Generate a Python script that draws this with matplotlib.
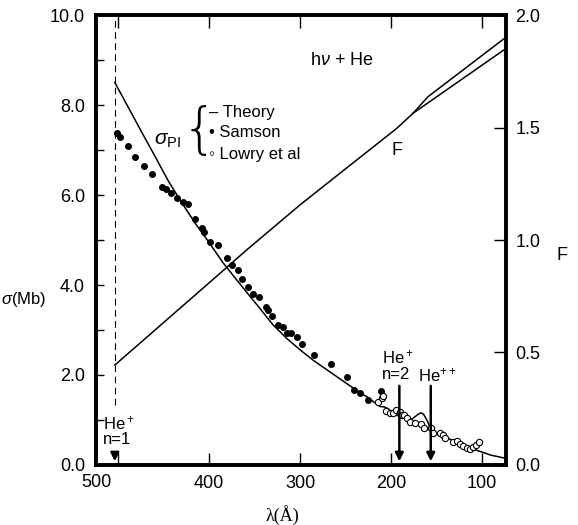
import matplotlib
matplotlib.use('Agg')
import matplotlib.pyplot as plt

plt.rcParams['font.family'] = ['Liberation Sans', 'DejaVu Sans']
plt.rcParams['mathtext.fontset'] = 'custom'
plt.rcParams['mathtext.rm'] = 'Liberation Sans'
plt.rcParams['mathtext.it'] = 'Liberation Sans:italic'

# theory photoionisation cross section (wavelength A, sigma Mb)
theory_lam = [504, 490, 475, 460, 445, 430, 415, 400, 385, 370, 358, 345, 330, 315,
              300, 285, 270, 255, 240, 226, 212, 207, 203, 198, 190, 180, 170, 160,
              150, 140, 130, 120, 110, 100, 90, 74]
theory_sig = [8.50, 7.98, 7.42, 6.87, 6.31, 5.82, 5.36, 4.94, 4.50, 4.12, 3.82, 3.50,
              3.12, 2.82, 2.56, 2.32, 2.11, 1.90, 1.69, 1.51, 1.30, 1.29, 1.25, 1.16,
              1.07, 1.00, 0.91, 0.81, 0.71, 0.62, 0.53, 0.44, 0.36, 0.29, 0.22, 0.15]
# resonance hump of the theory curve
reson_lam = [182, 176, 171, 167, 164, 160, 156]
reson_sig = [0.98, 1.03, 1.11, 1.16, 1.13, 0.99, 0.80]

# Samson data
samson_lam = [502, 498, 489, 481.7, 471.8, 463.3, 452.3, 447.6, 442, 435.8, 429.2, 423,
              415.6, 408.3, 405.7, 399, 390, 380.7, 375.2, 368, 364.2, 357, 351.4, 345,
              337.8, 335, 331.2, 323.9, 319, 314.6, 310.2, 303, 297.5, 284.6, 266.2,
              248, 240, 233.9, 225.4, 210.8]
samson_sig = [7.37, 7.28, 7.09, 6.85, 6.65, 6.47, 6.18, 6.13, 6.04, 5.93, 5.84, 5.80,
              5.47, 5.27, 5.18, 4.96, 4.89, 4.59, 4.44, 4.33, 4.13, 3.96, 3.80, 3.73,
              3.52, 3.44, 3.31, 3.11, 3.06, 2.93, 2.93, 2.84, 2.68, 2.44, 2.24,
              1.96, 1.67, 1.59, 1.44, 1.65]

# Lowry et al data
lowry_lam = [213.7, 210, 208.3, 205.3, 200.9, 197.5, 194.3, 189.9, 188, 185.5, 182.5,
             178.9, 173.3, 167, 163, 156, 153.2, 145.8, 142.9, 140.3, 131.2, 126.7,
             123.8, 120, 116.4, 112.8, 109, 106.2, 102.5]
lowry_sig = [1.39, 1.48, 1.53, 1.20, 1.16, 1.16, 1.22, 1.18, 1.11, 1.11, 1.04,
             0.96, 0.93, 0.90, 0.83, 0.83, 0.72, 0.72, 0.67, 0.59, 0.50, 0.54,
             0.46, 0.42, 0.37, 0.35, 0.39, 0.44, 0.50]

# F curves (right axis)
F_lam = [504, 400, 358.7, 300, 250, 193.5, 175.6]
F_val = [0.444, 0.81, 0.956, 1.156, 1.316, 1.496, 1.563]
F_up_lam = [175.6, 159, 73.6]
F_up_val = [1.563, 1.637, 1.90]
F_lo_lam = [175.6, 73.6]
F_lo_val = [1.563, 1.85]

fig = plt.figure(figsize=(5.78, 5.25), dpi=100)
ax = fig.add_axes([0.1661, 0.1143, 0.7086, 0.8571])
ax2 = ax.twinx()

ax.set_xlim(524.7, 73.6)
ax.set_ylim(0, 10)
ax2.set_ylim(0, 2.0)

ax.plot(theory_lam, theory_sig, color='black', lw=1.1)
ax.plot(reson_lam, reson_sig, color='black', lw=1.1)
ax.plot(samson_lam, samson_sig, 'o', color='black', ms=4.0)
ax.plot(lowry_lam, lowry_sig, 'o', mfc='white', mec='black', mew=0.8, ms=4.5)

ax2.plot(F_lam, F_val, color='black', lw=1.1)
ax2.plot(F_up_lam, F_up_val, color='black', lw=1.1)
ax2.plot(F_lo_lam, F_lo_val, color='black', lw=1.1)

# threshold line
ax.plot([504, 504], [1.33, 10], color='black', lw=0.8, dashes=(6, 4))

arrow = dict(arrowstyle='-|>', color='black', lw=1.8, mutation_scale=12)
ax.annotate('', xy=(504, 0.02), xytext=(504, 0.32), arrowprops=arrow)
ax.annotate('', xy=(190.6, 0.02), xytext=(190.6, 1.82), arrowprops=arrow)
ax.annotate('', xy=(156, 0.02), xytext=(156, 1.82), arrowprops=arrow)

ax.text(517, 0.93, 'He$^+$', fontsize=12, va='center', ha='left')
ax.text(517, 0.56, 'n=1', fontsize=12, va='center', ha='left')
ax.text(209.7, 2.4, 'He$^+$', fontsize=12, va='center', ha='left')
ax.text(209.7, 2.0, 'n=2', fontsize=12, va='center', ha='left')
ax.text(170, 2.0, 'He$^{++}$', fontsize=12, va='center', ha='left')

ax.text(253.7, 9.0, 'h$\\nu$ + He', fontsize=13, ha='center', va='center')
ax.text(193, 7.0, 'F', fontsize=13, ha='center', va='center')
ax.text(446, 7.22, '$\\sigma_{\\rm PI}$', fontsize=15, ha='center', va='center')
ax.text(410.5, 7.40, '{', fontsize=40, ha='center', va='center',
        family='DejaVu Sans', fontweight='ultralight')
ax.text(400, 7.84, '– Theory', fontsize=12, ha='left', va='center')
ax.text(400, 7.38, '• Samson', fontsize=12, ha='left', va='center')
ax.text(400, 6.90, '◦ Lowry et al', fontsize=12, ha='left', va='center')

# ticks
ax.set_xticks([500, 400, 300, 200, 100])
ax.set_xticklabels(['', '400', '300', '200', '100'])
ax.text(0.0, -0.038, '500', transform=ax.transAxes, ha='center', va='center', fontsize=13)
ax.set_yticks(range(0, 11))
ax.set_yticklabels([('%.1f' % v) if v % 2 == 0 else '' for v in range(0, 11)])
ax.tick_params(axis='x', direction='in', length=9, width=1, top=True, labelsize=13, pad=7)
ax.tick_params(axis='y', direction='in', length=6, width=1, labelsize=13, pad=8)
ax2.set_yticks([0, 0.5, 1.0, 1.5, 2.0])
ax2.set_yticklabels(['0.0', '0.5', '1.0', '1.5', '2.0'])
ax2.tick_params(axis='y', direction='in', length=9, width=1, labelsize=13, pad=7)

for a in (ax, ax2):
    for s in a.spines.values():
        s.set_linewidth(2.6)

fig.text(0.04, 0.43, '$\\sigma$(Mb)', fontsize=12, ha='center', va='center')
fig.text(0.972, 0.514, 'F', fontsize=13, ha='center', va='center')
fig.text(0.488, 0.019, 'λ(Å)', fontsize=13, ha='center', va='center', family='Liberation Serif')

fig.savefig('out.png', dpi=100)
